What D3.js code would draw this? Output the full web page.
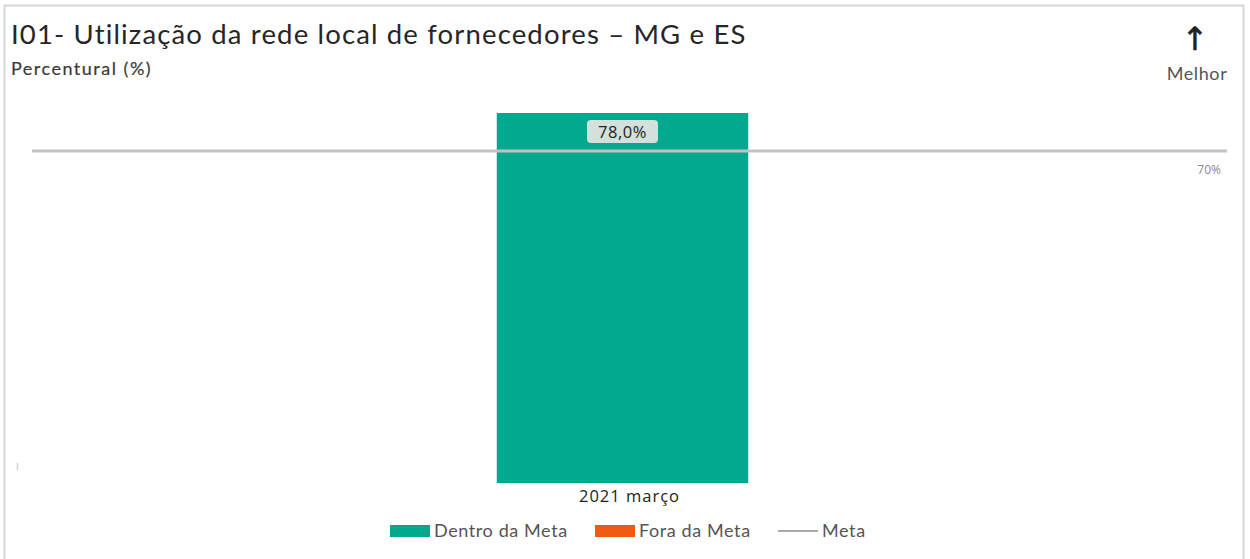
<!DOCTYPE html>
<html>
<head>
<meta charset="utf-8">
<script src="https://cdn.jsdelivr.net/npm/d3@7"></script>
<style>
  html, body { margin: 0; padding: 0; background: #fff; }
  svg { display: block; }
</style>
</head>
<body>
<svg id="chart" width="1250" height="559"></svg>
<script>
// Indicator data
const categories = ["2021 março"];
const dentroMeta = [78.0];
const foraMeta = [0];
const meta = [70];
const metaLabel = "70%";
const legendItems = ["Dentro da Meta", "Fora da Meta", "Meta"];

const W = 1250, H = 559;
const svg = d3.select("#chart");
const green = "#02a98e", orange = "#f05a14", gray = "#c3c3c3";
const fontMain = "Lato, 'Open Sans', sans-serif";
const fontData = "'Open Sans', 'DejaVu Sans', sans-serif";

// frame
svg.append("path")
  .attr("d", `M4.5,${H} V5.5 H1243.5 V${H}`)
  .attr("fill", "none").attr("stroke", "#d6d6d6").attr("stroke-width", 2);

// titles
svg.append("text").attr("x", 11).attr("y", 44)
  .attr("font-family", fontMain).attr("font-size", 27.5).attr("letter-spacing", 1.15).attr("fill", "#262626")
  .text("I01- Utilização da rede local de fornecedores – MG e ES");
svg.append("text").attr("x", 11).attr("y", 75)
  .attr("font-family", fontMain).attr("font-size", 18).attr("letter-spacing", 1.5).attr("fill", "#3a3a3a")
  .attr("stroke", "#3a3a3a").attr("stroke-width", 0.2)
  .text("Percentural (%)");

// "better" indicator
svg.append("text").attr("x", 1195).attr("y", 50).attr("text-anchor", "middle")
  .attr("font-family", "'DejaVu Sans', sans-serif").attr("font-size", 32).attr("fill", "#222")
  .attr("stroke", "#222").attr("stroke-width", 0.6)
  .text("↑");
svg.append("text").attr("x", 1197).attr("y", 80).attr("text-anchor", "middle")
  .attr("font-family", fontMain).attr("font-size", 18).attr("letter-spacing", 0.6).attr("fill", "#555")
  .text("Melhor");

// scales
const y = d3.scaleLinear().domain([0, d3.max(dentroMeta)]).range([483, 113]);
const x = d3.scaleBand().domain(categories).range([18, 1227])
  .paddingInner(0.792).paddingOuter(0.396);

const plot = svg.append("g");

// bars within target
plot.selectAll("rect.dentro").data(categories).join("rect")
  .attr("class", "dentro")
  .attr("x", d => x(d)).attr("width", x.bandwidth())
  .attr("y", (d, i) => y(dentroMeta[i]))
  .attr("height", (d, i) => y(0) - y(dentroMeta[i]))
  .attr("fill", green);

// bars outside target (stacked)
plot.selectAll("rect.fora").data(categories).join("rect")
  .attr("class", "fora")
  .attr("x", d => x(d)).attr("width", x.bandwidth())
  .attr("y", (d, i) => y(dentroMeta[i] + foraMeta[i]))
  .attr("height", (d, i) => y(dentroMeta[i]) - y(dentroMeta[i] + foraMeta[i]))
  .attr("fill", orange);

// target line
plot.append("line")
  .attr("x1", 32).attr("x2", 1227)
  .attr("y1", y(meta[0])).attr("y2", y(meta[0]))
  .attr("stroke", gray).attr("stroke-width", 3);
svg.append("text").attr("x", 1221).attr("y", 174).attr("text-anchor", "end")
  .attr("font-family", fontData).attr("font-size", 12).attr("fill", "#8a8a8a")
  .text(metaLabel);

// value labels
const fmt = v => d3.format(".1f")(v).replace(".", ",") + "%";
categories.forEach((c, i) => {
  const cx = x(c) + x.bandwidth() / 2;
  const g = plot.append("g");
  g.append("text").attr("x", cx).attr("y", y(dentroMeta[i]) + 25)
    .attr("text-anchor", "middle")
    .attr("font-family", fontData).attr("font-size", 16.5).attr("letter-spacing", 0.6).attr("fill", "#222")
    .text(fmt(dentroMeta[i]));
  g.insert("rect", "text")
    .attr("x", cx - 35.5).attr("y", y(dentroMeta[i]) + 7)
    .attr("width", 71).attr("height", 23)
    .attr("rx", 4).attr("fill", "#d3e0dc");
});

// x axis labels
const xAxis = d3.axisBottom(x).tickSize(0).tickPadding(7);
const ax = svg.append("g").attr("transform", `translate(0,${y(0)})`).call(xAxis);
ax.select(".domain").remove();
ax.selectAll("text").attr("font-family", fontData).attr("font-size", 16.5)
  .attr("letter-spacing", 1).attr("fill", "#222").attr("dx", 7);

// faint axis remnant
svg.append("line").attr("x1", 17.5).attr("x2", 17.5).attr("y1", 463).attr("y2", 470)
  .attr("stroke", "#d0d0d0").attr("stroke-width", 1.5);

// legend
const legend = svg.append("g").attr("font-family", fontMain).attr("font-size", 18)
  .attr("letter-spacing", 0.6).attr("fill", "#555");
const lx = [390, 595, 778];
legendItems.forEach((name, i) => {
  const g = legend.append("g").attr("transform", `translate(${lx[i]},531)`);
  if (i < 2) {
    g.append("rect").attr("x", 0).attr("y", -6).attr("width", 40).attr("height", 12)
      .attr("fill", i === 0 ? green : orange);
  } else {
    g.append("line").attr("x1", 0).attr("x2", 40).attr("y1", 0).attr("y2", 0)
      .attr("stroke", "#aaa").attr("stroke-width", 2);
  }
  g.append("text").attr("x", 44).attr("y", 6).text(name);
});
</script>
</body>
</html>
